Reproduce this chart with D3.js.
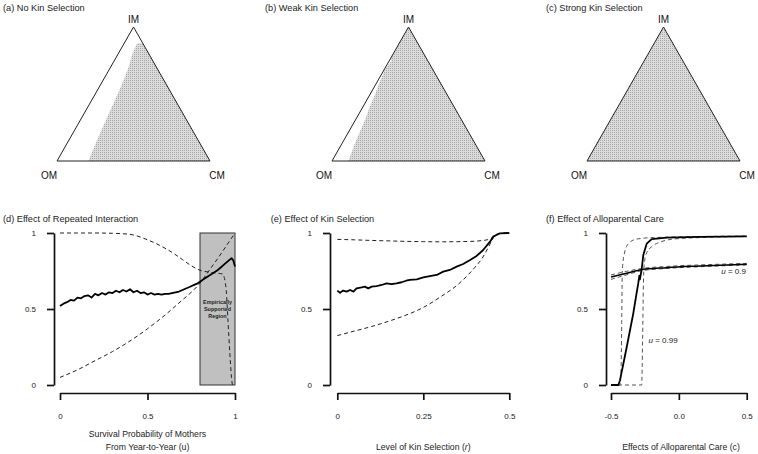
<!DOCTYPE html>
<html><head><meta charset="utf-8">
<script src="https://cdn.jsdelivr.net/npm/d3@7"></script>
<style>body{margin:0;background:#fff} svg{display:block;font-family:"Liberation Sans",Arial,Helvetica,sans-serif}</style>
</head><body><svg id="c" width="758" height="454"></svg>
<script>
// ---------- DATA ----------
const topTitles = ["(a) No Kin Selection", "(b) Weak Kin Selection", "(c) Strong Kin Selection"];
const vertexLabels = ["OM", "CM", "IM"];
// Boundary of shaded (stable) region in ternary coords: share of IM, share of CM
const bndA_IM = [0.002, 0.157, 0.269, 0.381, 0.493, 0.604, 0.704, 0.791, 0.853, 0.878, 0.88];
const bndA_CM = [0.205, 0.183, 0.171, 0.159, 0.147, 0.134, 0.117, 0.095, 0.086, 0.085, 0.12];
const bndB_IM = [0, 0.133, 0.220, 0.308, 0.408, 0.496, 0.596, 0.684, 0.735, 0.747, 0.76, 1];
const bndB_CM = [0.107, 0.084, 0.073, 0.062, 0.044, 0.033, 0.016, 0.004, 0.012, 0.017, 0, 0];
const bndC_IM = [0, 1];
const bndC_CM = [0, 0];

const bottomTitles = ["(d) Effect of Repeated Interaction", "(e) Effect of Kin Selection", "(f) Effect of Alloparental Care"];
const yTicks = [0, 0.5, 1];
const yTickLabels = ["0", "0.5", "1"];
const dTicks = [0, 0.5, 1], dTickLabels = ["0", "0.5", "1"];
const eTicks = [0, 0.25, 0.5], eTickLabels = ["0", "0.25", "0.5"];
const fTicks = [-0.5, 0, 0.5], fTickLabels = ["-0.5", "0.0", "0.5"];

// (d) survival probability u
const dU = [0,.02,.04,.06,.08,.10,.12,.14,.16,.18,.20,.22,.24,.26,.28,.30,.32,.34,.36,.38,.40,.42,.44,.46,.48,.50,.52,.54,.56,.58,.60,.62,.64,.66,.68,.70,.72,.74,.76,.78,.80,.82,.84,.86,.88,.90,.92,.94,.96,.98,.99,1.0];
const dSolid = [.52,.535,.545,.56,.555,.575,.57,.585,.59,.575,.60,.59,.605,.595,.61,.605,.62,.61,.625,.615,.63,.61,.62,.605,.61,.595,.605,.595,.60,.595,.60,.60,.605,.61,.615,.625,.635,.645,.655,.665,.68,.695,.71,.725,.74,.755,.775,.795,.815,.835,.82,.78];
const dUpU = [0,.1,.2,.3,.35,.42,.5,.55,.6,.65,.7,.75,.8,.85,.9,.93,.94,.95,.96,.97,.98,.985];
const dUp  = [1,1,1,.998,.996,.987,.955,.93,.9,.865,.825,.785,.755,.743,.735,.73,.70,.62,.42,.22,.05,0];
const dLoU = [0,.1,.2,.3,.4,.5,.6,.7,.75,.8,.85,.9,.95,1];
const dLo  = [.05,.1,.16,.22,.29,.37,.46,.56,.61,.67,.75,.83,.915,1];
const dRegion = [0.8, 1.0];
const dRegionText = ["Empirically", "Supported", "Region"];

// (e) kin selection r
const eR = [0,.008,.017,.027,.037,.047,.056,.071,.080,.090,.100,.114,.129,.143,.158,.172,.187,.200,.211,.231,.250,.269,.289,.308,.327,.347,.366,.386,.405,.424,.444,.453,.473,.5];
const eSolid = [.621,.607,.621,.614,.625,.614,.636,.642,.647,.636,.647,.651,.658,.669,.664,.669,.676,.686,.691,.695,.708,.717,.724,.746,.757,.779,.796,.822,.849,.888,.943,.976,.998,1];
const eDashR = [0,.05,.1,.15,.2,.25,.3,.35,.4,.42,.44,.45,.46,.47,.5];
const eUp = [.958,.955,.951,.948,.945,.943,.942,.943,.946,.95,.958,.968,.985,.995,1];
const eLo = [.325,.355,.385,.42,.46,.51,.58,.66,.774,.83,.91,.954,.987,.997,1];

// (f) alloparental care c
const f99C = [-.5,-.446,-.434,-.409,-.384,-.36,-.336,-.316,-.299,-.291,-.287,-.274,-.262,-.237,-.2,-.089,.156,.5];
const f99Solid = [0,0,.03,.14,.25,.36,.47,.58,.67,.72,.695,.76,.855,.93,.96,.97,.975,.978];
const f99LoC = [-.5,-.434,-.426,-.421,-.417,-.404,-.372,-.311,-.188,.5];
const f99Lo  = [0,0,.1,.41,.74,.855,.93,.96,.97,.98];
const f99HiC = [-.5,-.274,-.267,-.262,-.255,-.237,-.2,-.139,-.041,.156,.5];
const f99Hi  = [0,0,.3,.62,.8,.87,.91,.94,.96,.97,.978];
const f9C = [-.5,-.384,-.286,-.089,.156,.5];
const f9Solid = [.71,.735,.757,.772,.783,.795];
const f9Hi = [.724,.748,.765,.78,.79,.80];
const f9Lo = [.695,.725,.75,.767,.778,.79];
const fLabel9 = "0.9", fLabel99 = "0.99";

const xLabels = [["Survival Probability of Mothers", "From Year-to-Year (u)"], ["Level of Kin Selection (", "r", ")"], ["Effects of Alloparental Care (c)"]];

// ---------- DRAW ----------
const svg = d3.select("#c");
const defs = svg.append("defs");
const pat = defs.append("pattern").attr("id", "stip").attr("width", 2).attr("height", 2).attr("patternUnits", "userSpaceOnUse");
pat.append("rect").attr("width", 2).attr("height", 2).attr("fill", "#dcdcdc");
pat.append("rect").attr("width", 1).attr("height", 1).attr("fill", "#a6a6a6");

// Ternary panels
const triLayout = [
  {x0: 57, tx: 3, im: bndA_IM, cm: bndA_CM},
  {x0: 332, tx: 265, im: bndB_IM, cm: bndB_CM},
  {x0: 587, tx: 546, im: bndC_IM, cm: bndC_CM}
];
triLayout.forEach((p, i) => {
  const g = svg.append("g");
  const sx = d3.scaleLinear([0, 1], [p.x0, p.x0 + 153]);
  const sy = d3.scaleLinear([0, 1], [161, 27]);
  const pt = (im, cm) => [sx(cm + im / 2), sy(im)];
  const poly = p.im.map((v, k) => pt(v, p.cm[k]));
  poly.push(pt(0, 1));
  g.append("path").attr("d", d3.line()(poly) + "Z").attr("fill", "url(#stip)").attr("stroke", "none");
  const tri = [pt(0, 0), pt(0, 1), pt(1, 0)];
  g.append("path").attr("d", d3.line()(tri) + "Z").attr("fill", "none").attr("stroke", "#222").attr("stroke-width", 1);
  g.append("text").attr("x", p.tx).attr("y", 10.7).attr("font-size", 9.2).attr("fill", "#222").text(topTitles[i]);
  g.append("text").attr("x", pt(0, 0)[0] - 8).attr("y", 179).attr("text-anchor", "middle").attr("font-size", 10).attr("fill", "#111").text(vertexLabels[0]);
  g.append("text").attr("x", pt(0, 1)[0] + 7).attr("y", 179).attr("text-anchor", "middle").attr("font-size", 10).attr("fill", "#111").text(vertexLabels[1]);
  g.append("text").attr("x", pt(1, 0)[0]).attr("y", 22.5).attr("text-anchor", "middle").attr("font-size", 10).attr("fill", "#111").text(vertexLabels[2]);
});

// Line panels
const yTop = 233, yBot = 385, xAxisY = 393;
const panels = [
  {axisX: 54, tx: 3, dom: [0, 1], rng: [60, 235], ticks: dTicks, tl: dTickLabels},
  {axisX: 330, tx: 270.7, dom: [0, 0.5], rng: [337.3, 509.3], ticks: eTicks, tl: eTickLabels},
  {axisX: 606, tx: 546, dom: [-0.5, 0.5], rng: [611, 746.7], ticks: fTicks, tl: fTickLabels}
];
const ys = d3.scaleLinear([0, 1], [yBot, yTop]);

panels.forEach((p, i) => {
  const g = svg.append("g");
  const xs = d3.scaleLinear(p.dom, p.rng);
  p.xs = xs; p.g = g;
  // title
  g.append("text").attr("x", p.tx).attr("y", 222).attr("font-size", 9.2).attr("fill", "#222").text(bottomTitles[i]);
  // y axis
  const ya = g.append("g").attr("transform", `translate(${p.axisX},0)`)
    .call(d3.axisLeft(ys).tickValues(yTicks).tickFormat((d, k) => yTickLabels[k]).tickSize(7).tickSizeOuter(0).tickPadding(11));
  // x axis
  const xa = g.append("g").attr("transform", `translate(0,${xAxisY})`)
    .call(d3.axisBottom(xs).tickValues(p.ticks).tickFormat((d, k) => p.tl[k]).tickSize(7).tickSizeOuter(0).tickPadding(13));
  [ya, xa].forEach(a => {
    a.select(".domain").attr("stroke", "#111").attr("stroke-width", 1.7);
    a.selectAll(".tick line").attr("stroke", "#111").attr("stroke-width", 1.7);
    a.selectAll(".tick text").attr("font-size", 8).attr("fill", "#222").attr("font-family", '"Liberation Sans",Arial,sans-serif');
  });
});

const mk = (xs, xsArr, vArr, curve) => d3.line().x((d, k) => xs(xsArr[k])).y(d => ys(d)).curve(curve || d3.curveLinear)(vArr);
const dashStyle = (sel, col) => sel.attr("fill", "none").attr("stroke", col).attr("stroke-width", 1).attr("stroke-dasharray", "4,3");
const solidStyle = (sel, w) => sel.attr("fill", "none").attr("stroke", "#000").attr("stroke-width", w).attr("stroke-linejoin", "round");

// (d)
{
  const p = panels[0], g = p.g, xs = p.xs;
  g.append("rect").attr("x", xs(dRegion[0])).attr("y", ys(1)).attr("width", xs(dRegion[1]) - xs(dRegion[0])).attr("height", ys(0) - ys(1))
    .attr("fill", "#c0c0c0").attr("stroke", "#333").attr("stroke-width", 1);
  dRegionText.forEach((t, k) => g.append("text").attr("x", xs((dRegion[0] + dRegion[1]) / 2)).attr("y", 304 + k * 6.8)
    .attr("text-anchor", "middle").attr("font-size", 5.4).attr("font-weight", "bold").attr("fill", "#222").text(t));
  dashStyle(g.append("path").attr("d", mk(xs, dUpU, dUp, d3.curveMonotoneX)), "#222");
  dashStyle(g.append("path").attr("d", mk(xs, dLoU, dLo, d3.curveMonotoneX)), "#222");
  solidStyle(g.append("path").attr("d", mk(xs, dU, dSolid)), 1.8);
  g.append("text").attr("x", 147.5).attr("y", 437).attr("text-anchor", "middle").attr("font-size", 8.7).attr("fill", "#222").text(xLabels[0][0]);
  g.append("text").attr("x", 147.5).attr("y", 450).attr("text-anchor", "middle").attr("font-size", 8.7).attr("fill", "#222").text(xLabels[0][1]);
}
// (e)
{
  const p = panels[1], g = p.g, xs = p.xs;
  dashStyle(g.append("path").attr("d", mk(xs, eDashR, eUp, d3.curveMonotoneX)), "#222");
  dashStyle(g.append("path").attr("d", mk(xs, eDashR, eLo, d3.curveMonotoneX)), "#222");
  solidStyle(g.append("path").attr("d", mk(xs, eR, eSolid)), 1.8);
  const t = g.append("text").attr("x", 423.3).attr("y", 450).attr("text-anchor", "middle").attr("font-size", 8.7).attr("fill", "#222");
  t.append("tspan").text(xLabels[1][0]);
  t.append("tspan").attr("font-style", "italic").text(xLabels[1][1]);
  t.append("tspan").text(xLabels[1][2]);
}
// (f)
{
  const p = panels[2], g = p.g, xs = p.xs;
  dashStyle(g.append("path").attr("d", mk(xs, f99LoC, f99Lo, d3.curveMonotoneX)), "#555");
  dashStyle(g.append("path").attr("d", mk(xs, f99HiC, f99Hi, d3.curveMonotoneX)), "#555");
  dashStyle(g.append("path").attr("d", mk(xs, f9C, f9Hi, d3.curveMonotoneX)), "#555");
  dashStyle(g.append("path").attr("d", mk(xs, f9C, f9Lo, d3.curveMonotoneX)), "#555");
  solidStyle(g.append("path").attr("d", mk(xs, f9C, f9Solid, d3.curveMonotoneX)), 1.5);
  solidStyle(g.append("path").attr("d", mk(xs, f99C, f99Solid)), 1.8);
  const a1 = g.append("text").attr("x", 746).attr("y", 274).attr("text-anchor", "end").attr("font-size", 8).attr("fill", "#222");
  a1.append("tspan").attr("font-style", "italic").text("u");
  a1.append("tspan").text(" = " + fLabel9);
  const a2 = g.append("text").attr("x", 648.5).attr("y", 342.5).attr("font-size", 8).attr("fill", "#222");
  a2.append("tspan").attr("font-style", "italic").text("u");
  a2.append("tspan").text(" = " + fLabel99);
  g.append("text").attr("x", 681).attr("y", 450).attr("text-anchor", "middle").attr("font-size", 8.7).attr("fill", "#222").text(xLabels[2][0]);
}
</script></body></html>
